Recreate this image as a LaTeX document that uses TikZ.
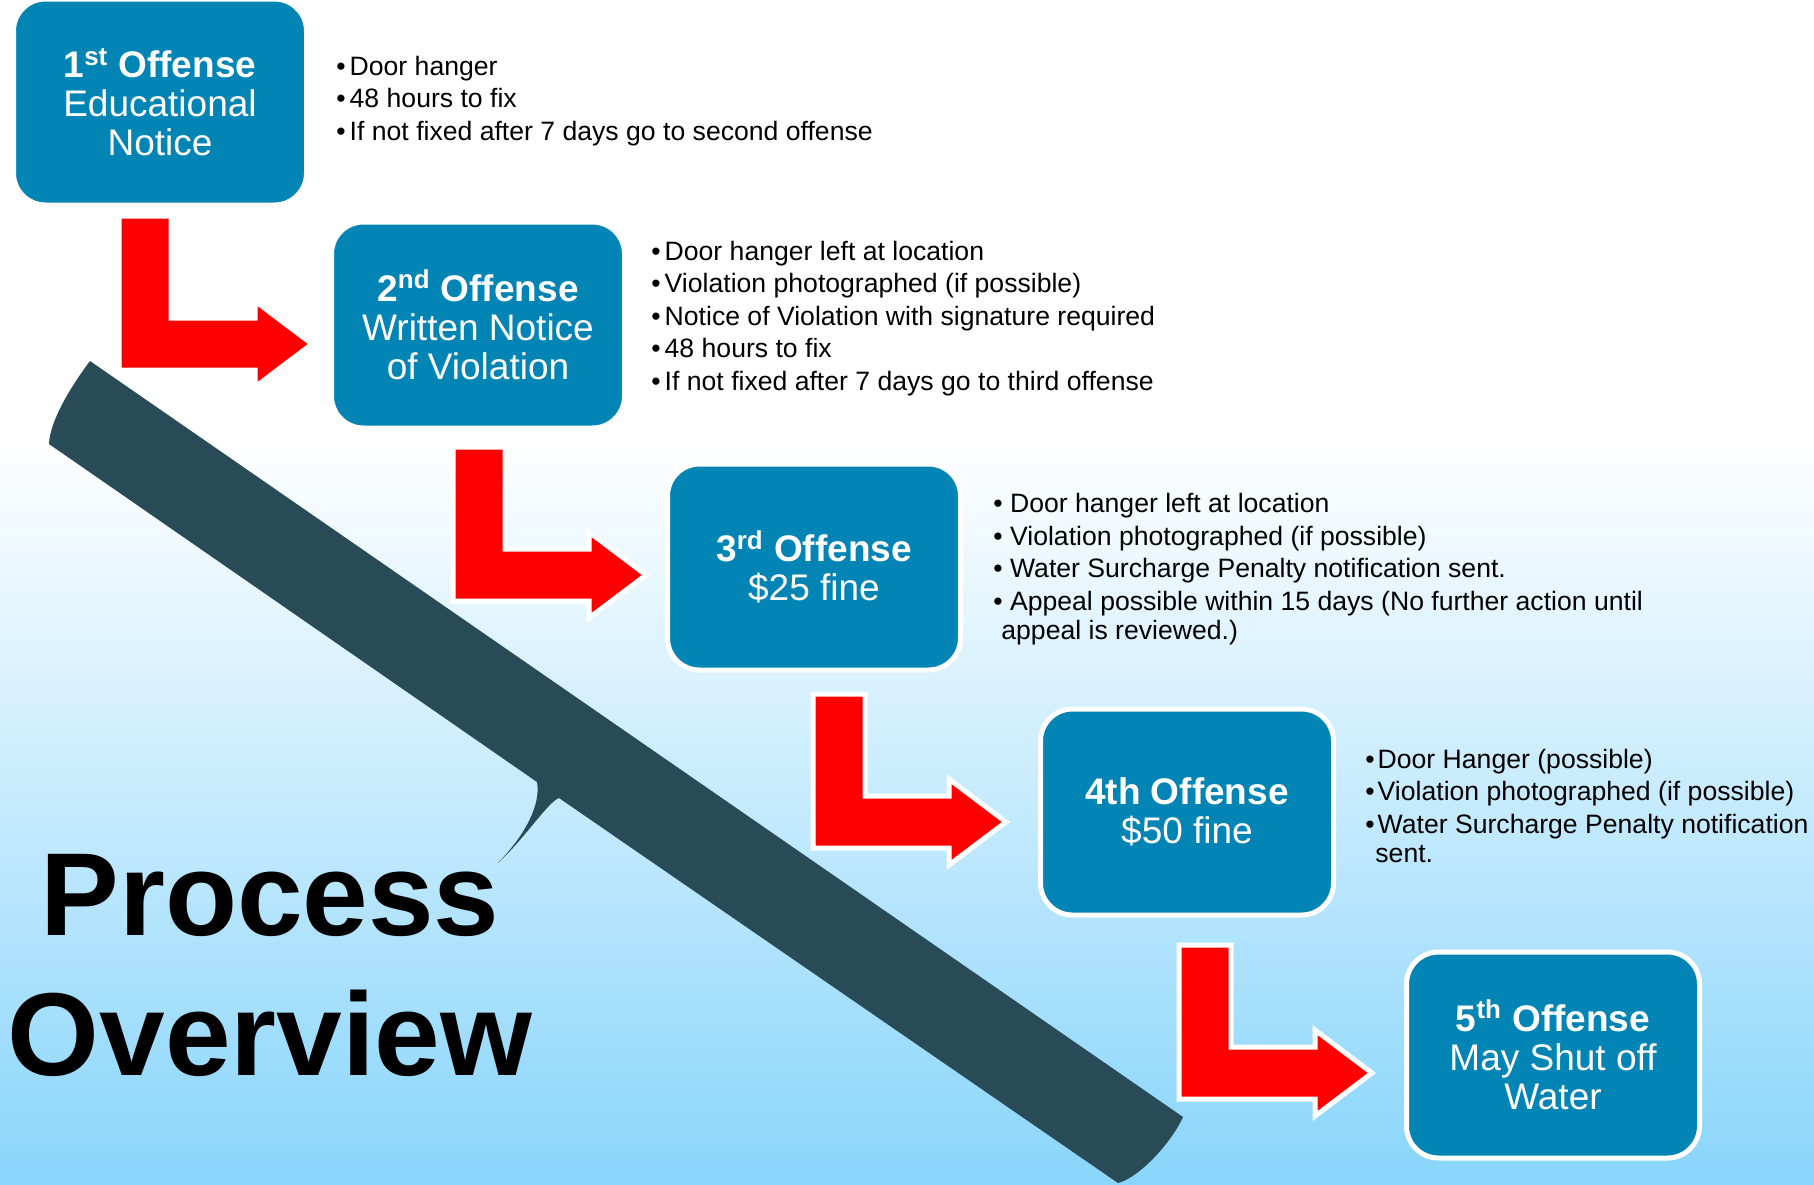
\documentclass[tikz,border=0pt]{standalone}
\usepackage{fontspec}
\setmainfont{Liberation Sans}
\usepackage{tikz}
\usepackage{xcolor}
\definecolor{boxblue}{RGB}{2,132,180}
\definecolor{slate}{RGB}{40,75,87}
\definecolor{skyblue}{RGB}{137,213,251}
\tikzset{
	offense/.style={rectangle,rounded corners=16pt,fill=boxblue,draw=white,line width=2.5pt,text=white,align=center,inner sep=0pt,minimum width=146.5pt,minimum height=103pt,font=\fontsize{18.5}{19.5}\selectfont},
	bullets/.style={anchor=base west,align=left,inner sep=0pt,font=\fontsize{13.3}{16.2}\selectfont},
	title/.style={anchor=base,inner sep=0pt,font=\fontsize{59}{70}\selectfont\bfseries},
	bend arrow/.style={fill=red,draw=white,line width=2.5pt,line join=miter}
}
\newcommand{\bendarrow}[1]{%
	\filldraw[bend arrow] (#1) -- ++(52,0) -- ++(0,102) -- ++(84,0) -- ++(0,-17) -- ++(57,43) -- ++(-57,43) -- ++(0,-17) -- ++(-136,0) -- cycle;}

\begin{document}
\begin{tikzpicture}[x=0.5pt,y=-0.5pt
				    ,every node/.style={inner sep=0pt}
					]
	% background
	\useasboundingbox (0,0) rectangle (1814,1184);
	\fill[white] (0,0) rectangle (1814,441);
	\shade[top color=white,bottom color=skyblue] (0,440) rectangle (1814,1184);
	% slanted bar
	\fill[slate] (90,361) .. controls (72,385) and (50,420) .. (49,444) -- (537,782)
		.. controls (541,805) and (525,835) .. (498,863)
		.. controls (525,838) and (548,802) .. (559,798) -- (1118,1183)
		.. controls (1138,1178) and (1170,1145) .. (1183,1117) -- cycle;
	% arrows
	\coordinate (a1) at (119,216);
	\coordinate (a2) at (453,447);
	\coordinate (a3) at (813,694);
	\coordinate (a4) at (1179,945);
	\bendarrow{a1}
	\bendarrow{a2}
	\bendarrow{a3}
	\bendarrow{a4}
	% offenses
	\node[offense] (o1) at (160,102) {\textbf{1\textsuperscript{st} Offense}\\Educational\\Notice};
	\node[offense] (o2) at (478,325) {\textbf{2\textsuperscript{nd} Offense}\\Written Notice\\of Violation};
	\node[offense] (o3) at (814,567) {\textbf{3\textsuperscript{rd} Offense}\\\$25 fine};
	\node[offense] (o4) at (1187,812) {\textbf{4th Offense}\\\$50 fine};
	\node[offense] (o5) at (1553,1055) {\textbf{5\textsuperscript{th} Offense}\\May Shut off\\Water};
	% details (placed by their last line)
	\node[bullets] (l1) at (336,140) {•\kern2pt Door hanger\\•\kern2pt 48 hours to fix\\•\kern2pt If not fixed after 7 days go to second offense};
	\node[bullets] (l2) at (651,390) {•\kern2pt Door hanger left at location\\•\kern2pt Violation photographed (if possible)\\•\kern2pt Notice of Violation with signature required\\•\kern2pt 48 hours to fix\\•\kern2pt If not fixed after 7 days go to third offense};
	\node[bullets] (l3) at (993,639) {• Door hanger left at location\\• Violation photographed (if possible)\\• Water Surcharge Penalty notification sent.\\• Appeal possible within 15 days (No further action until\\[-1.7pt]\hspace*{4pt}appeal is reviewed.)};
	\node[bullets] (l4) at (1365,862) {•\kern1.5pt Door Hanger (possible)\\•\kern1.5pt Violation photographed (if possible)\\•\kern1.5pt Water Surcharge Penalty notification\\[-1.7pt]\hspace*{5pt}sent.};
	% title
	\node[title] (process) at (270,935) {Process};
	\node[title] (overview) at (270,1075) {Overview};
\end{tikzpicture}
\end{document}
